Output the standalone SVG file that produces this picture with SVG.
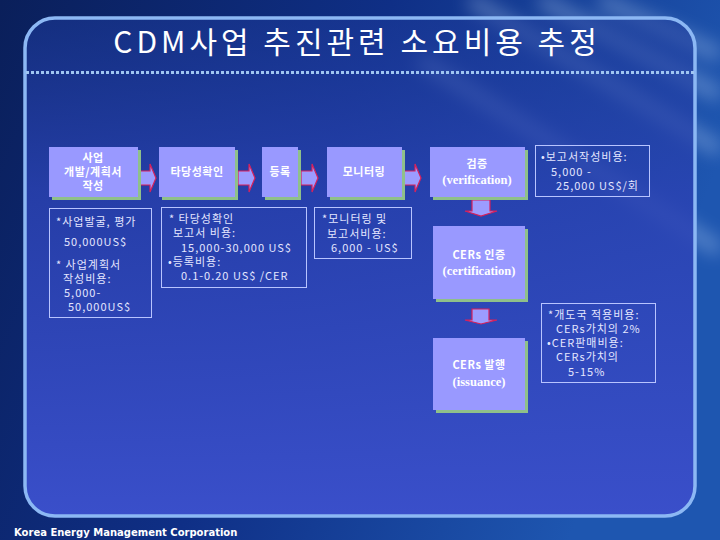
<svg xmlns="http://www.w3.org/2000/svg" width="720" height="540" viewBox="0 0 720 540">
<defs>
<linearGradient id="bg" x1="0" y1="0" x2="1" y2="0.3">
<stop offset="0" stop-color="#0a1f5a"/>
<stop offset="0.5" stop-color="#0f2f86"/>
<stop offset="1" stop-color="#1e56b0"/>
</linearGradient>
<linearGradient id="inner" x1="0" y1="0" x2="0" y2="1">
<stop offset="0" stop-color="#1c3a9a" stop-opacity="0.55"/>
<stop offset="0.35" stop-color="#2a42b2" stop-opacity="0.85"/>
<stop offset="1" stop-color="#3a4fca"/>
</linearGradient>
<filter id="blur" x="-50%" y="-50%" width="200%" height="200%"><feGaussianBlur stdDeviation="9"/></filter>
<style>
.box{fill:#9999ff}
.sh{fill:#8fc08a}
.lbl{fill:#ffffff;font-family:"Noto Sans CJK KR","DejaVu Sans",sans-serif;font-size:11px;font-weight:bold;text-anchor:middle;letter-spacing:0.5px}
.en{fill:#ffffff;font-family:"Liberation Serif","Noto Sans CJK KR",serif;font-size:12.5px;font-weight:bold;text-anchor:middle}
.desc{fill:none;stroke:#b8c4ff;stroke-width:1}
.dt{fill:#e4e6ff;font-family:"Noto Sans CJK KR","DejaVu Sans",sans-serif;font-size:11px;letter-spacing:1px}
.arr{fill:#9c9cff;stroke:#d8205a;stroke-width:1.2}
</style>
</defs>
<rect width="720" height="540" fill="url(#bg)"/>
<g filter="url(#blur)" opacity="0.35" stroke="#cfe6ff" fill="none" stroke-width="14">
<path d="M470 0 L720 150"/>
<path d="M540 0 L720 95"/>
<path d="M420 60 L720 250"/>
<path d="M600 0 L720 55"/>
</g>
<rect x="25" y="18" width="670" height="498" rx="30" ry="30" fill="url(#inner)" stroke="#8cb8f4" stroke-width="3.5"/>
<line x1="26" y1="72.5" x2="694" y2="72.5" stroke="#a0c6f2" stroke-width="3" stroke-dasharray="3 2"/>
<text x="357" y="53" fill="#ffffff" font-family="Noto Sans CJK KR, DejaVu Sans, sans-serif" font-size="30" letter-spacing="4" text-anchor="middle">CDM사업 추진관련 소요비용 추정</text>

<g id="connectors">
<path class="arr" d="M139 171 H150 V164 L156 178 L150 192 V185 H139 Z"/>
<path class="arr" d="M238 171 H249 V164 L255 178 L249 192 V185 H238 Z"/>
<path class="arr" d="M301 171 H312 V164 L318 178 L312 192 V185 H301 Z"/>
<path class="arr" d="M404 171 H415 V164 L421 178 L415 192 V185 H404 Z"/>
<path class="arr" d="M472 200 H490 V211 H497 L481 216 L465 211 H472 Z"/>
<path class="arr" d="M472 309 H489 V320 H497 L481 324 L465 320 H472 Z"/>
</g>

<g id="n1"><rect class="sh" x="52" y="150" width="89" height="50"/><rect class="box" x="49" y="147" width="89" height="50"/>
<text class="lbl" x="93" y="162">사업</text><text class="lbl" x="93" y="176">개발/계획서</text><text class="lbl" x="93" y="190">작성</text></g>
<g id="n2"><rect class="sh" x="162" y="150" width="76" height="50"/><rect class="box" x="159" y="147" width="76" height="50"/>
<text class="lbl" x="197" y="176">타당성확인</text></g>
<g id="n3"><rect class="sh" x="265" y="150" width="36" height="50"/><rect class="box" x="262" y="147" width="36" height="50"/>
<text class="lbl" x="280" y="176">등록</text></g>
<g id="n4"><rect class="sh" x="330" y="150" width="75" height="50"/><rect class="box" x="327" y="147" width="75" height="50"/>
<text class="lbl" x="364" y="176">모니터링</text></g>
<g id="n5"><rect class="sh" x="433" y="150" width="95" height="50"/><rect class="box" x="430" y="147" width="95" height="50"/>
<text class="lbl" x="477" y="168">검증</text><text class="en" x="477" y="184">(verification)</text></g>
<g id="n6"><rect class="sh" x="436" y="229" width="92" height="73"/><rect class="box" x="433" y="226" width="92" height="73"/>
<text class="lbl" x="479" y="259">CERs 인증</text><text class="en" x="479" y="275">(certification)</text></g>
<g id="n7"><rect class="sh" x="436" y="341" width="92" height="72"/><rect class="box" x="433" y="338" width="92" height="72"/>
<text class="lbl" x="479" y="369">CERs 발행</text><text class="en" x="479" y="386">(issuance)</text></g>

<g id="d1"><rect class="desc" x="49.5" y="208.5" width="102" height="109"/>
<text class="dt" x="56" y="226">*사업발굴, 평가</text>
<text class="dt" x="64" y="246">50,000US$</text>
<text class="dt" x="56" y="269">* 사업계획서</text>
<text class="dt" x="63" y="283">작성비용:</text>
<text class="dt" x="64" y="297">5,000-</text>
<text class="dt" x="68" y="311">50,000US$</text></g>
<g id="d2"><rect class="desc" x="161.5" y="207.5" width="145" height="80"/>
<text class="dt" x="169" y="223">* 타당성확인</text>
<text class="dt" x="173" y="237">보고서 비용:</text>
<text class="dt" x="181" y="252">15,000-30,000 US$</text>
<text class="dt" x="168" y="266">•등록비용:</text>
<text class="dt" x="181" y="280" font-family="Liberation Sans, sans-serif" font-size="11.5" letter-spacing="0">0.1-0.20 US$ /CER</text></g>
<g id="d3"><rect class="desc" x="314.5" y="207.5" width="97" height="51"/>
<text class="dt" x="322" y="223">*모니터링 및</text>
<text class="dt" x="327" y="238">보고서비용:</text>
<text class="dt" x="331" y="252">6,000 - US$</text></g>
<g id="d4"><rect class="desc" x="535.5" y="145.5" width="114" height="51"/>
<text class="dt" x="541" y="161">•보고서작성비용:</text>
<text class="dt" x="551" y="176">5,000 -</text>
<text class="dt" x="556" y="190">25,000 US$/회</text></g>
<g id="d5"><rect class="desc" x="541.5" y="303.5" width="114" height="79"/>
<text class="dt" x="548" y="319">*개도국 적용비용:</text>
<text class="dt" x="556" y="333">CERs가치의 2%</text>
<text class="dt" x="547" y="347">•CER판매비용:</text>
<text class="dt" x="556" y="361">CERs가치의</text>
<text class="dt" x="568" y="376">5-15%</text></g>

<text x="14" y="536" fill="#ffffff" font-family="DejaVu Sans, sans-serif" font-weight="bold" font-size="10">Korea Energy Management Corporation</text>
</svg>
